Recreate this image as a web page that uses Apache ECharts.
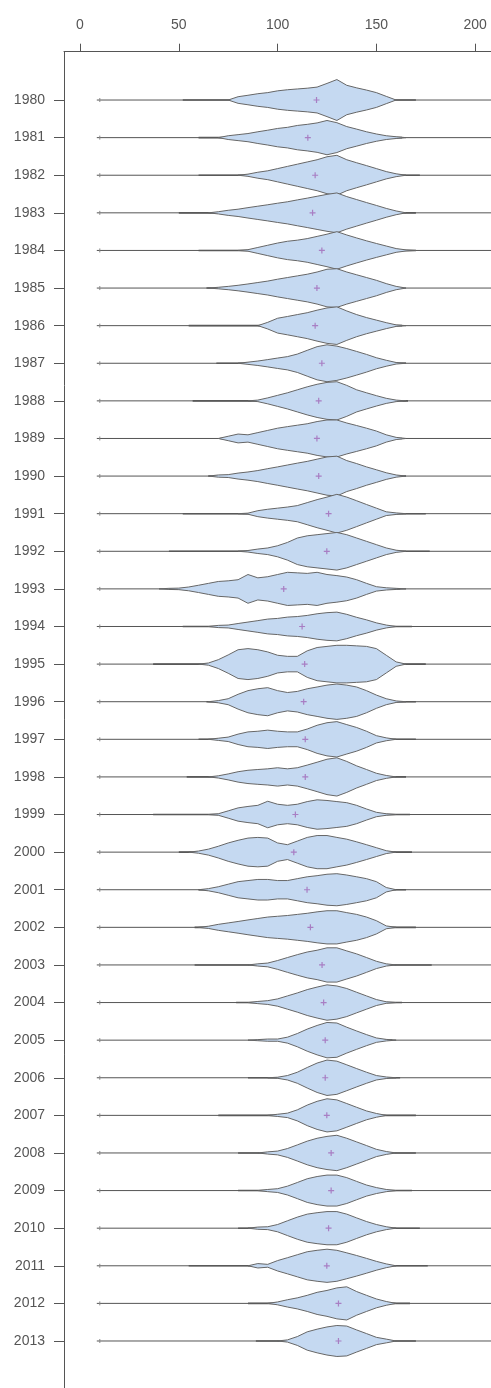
<!DOCTYPE html>
<meta charset="utf-8">
<title>Bean plot 1980-2013</title>
<style>
html, body { margin: 0; padding: 0; background: #fff; }
#main { width: 491px; height: 1388px; }
</style>
<body>
<div id="main"></div>
<script src="https://cdn.jsdelivr.net/npm/echarts@6/dist/echarts.min.js"></script>
<script>
// years on the vertical axis
var years = [1980,1981,1982,1983,1984,1985,1986,1987,1988,1989,1990,1991,1992,1993,1994,1995,1996,
             1997,1998,1999,2000,2001,2002,2003,2004,2005,2006,2007,2008,2009,2010,2011,2012,2013];

// x positions where the density was read
var densX = [40,45,50,55,60,65,70,75,80,85,90,95,100,105,110,115,120,125,130,135,140,145,150,155,160,165,170,175,180];

// density per year (arbitrary units)
var density = [
  [0,0,0,0,0,0,0,0,3,4.3,5.7,6.7,8.3,9.3,10,10.7,11.7,15,18.5,13.3,11,9,6.7,3.3,0,0,0,0,0],
  [0,0,0,0,0,0,0,1.7,2.7,3.7,5.3,6.7,8.3,9.3,11,12,13.3,15.5,13.5,10,7.7,5.3,3.3,1.7,0.8,0,0,0,0],
  [0,0,0,0,0,0,0,0,0,1,2.7,4,6,8,10,12,14,16.7,18,14,11.3,8.7,6,3.3,1.3,0,0,0,0],
  [0,0,0,0,0,0,1,2.3,3.3,4.7,6,7.3,8.7,10,11.7,13.3,15,16.7,18,14.7,12,9.3,6.7,4,1.7,0,0,0,0],
  [0,0,0,0,0,0,0,0,0,0.7,2.7,4.7,6.7,8.3,9.3,10.7,12.7,14.7,17,14,11.3,8.7,6.3,4,1.7,0.5,0,0,0],
  [0,0,0,0,0,0,0.7,1.5,2.5,3.7,5,6.3,8,9.5,11,12.5,14.5,17,17.5,14.5,12,9.5,7,4,1.5,0,0,0,0],
  [0,0,0,0,0,0,0,0,0,0,0,3,6.7,8.3,10,11.7,14,16,17,13.3,10,7.3,5,2.7,0.7,0,0,0,0],
  [0,0,0,0,0,0,0,0,0,1,2,3.3,4.7,6,8.3,11.7,15,16.7,15.5,13.3,10.7,8,5,2.7,0.7,0,0,0,0],
  [0,0,0,0,0,0,0,0,0,0,0.7,2.7,5,7.3,10,12.7,15,16.7,17.3,14,10,7.3,4.7,2.3,0.7,0,0,0,0],
  [0,0,0,0,0,0,0,2,4,3.3,5.3,7.3,9.3,10.7,12,13.3,15.3,16.7,16.7,14,11.7,9.3,6.7,3.3,1,0,0,0,0],
  [0,0,0,0,0,0,1,1.3,2.7,3.7,5,6.7,8.3,10,11.7,13.3,15.3,17.3,18,14,11.3,8.3,5.7,3,1,0,0,0,0],
  [0,0,0,0,0,0,0,0,0,0.5,2.7,4,5,6,7.3,10,12.7,15,17.5,15,11.7,8.3,5,1.7,0.7,0,0,0,0],
  [0,0,0,0,0,0,0,0,0,0.7,2,3,5,8,12,14,15,16,17,15,12,9,6,3,1,0,0,0,0],
  [0,0.5,0.7,1.7,3.3,5,6.7,7.3,8.3,13,10,11,13,15,14.5,14,15,13,12,10.7,8.3,5,2,1,0.5,0,0,0,0],
  [0,0,0,0,0,0,1,1.3,2.7,4,5.3,6.7,7.3,8.5,9,10,11.5,12.5,13,11,8.3,6,3.3,1.3,0,0,0,0,0],
  [0,0,0,0,0,1,4,8.3,13,14,13,11,8,7,7,12,15,16,17,17,16.5,16,14,8,2,0,0,0,0],
  [0,0,0,0,0,0,1,2.7,6.7,10,11.7,12.7,10,8.3,9.3,11.7,13.3,15,16,15,13.3,10,6,2.7,0.7,0,0,0,0],
  [0,0,0,0,0,0,1,2,4.7,6.7,7.3,8.3,7.3,6.7,6.7,9.3,12.7,15,16,13.3,10.7,7.3,3.3,1.3,0,0,0,0,0],
  [0,0,0,0,0,0,1,2.7,4.7,6,6.7,7.3,8.3,7.3,8.3,10.7,13.3,16,17.3,14,10,6.7,3.3,1.3,0,0,0,0,0],
  [0,0,0,0,0,0,0.7,3.3,6,7.3,8.3,12,9.3,8.3,9.3,11.7,13.3,12.7,11.7,10.7,8.3,5,2,0.7,0,0,0,0,0],
  [0,0,0,0,1,2.7,5.3,8.3,10.7,12.7,13.3,12.7,8.3,6.7,10,13.3,15,15,13.3,11.7,9.3,6.7,4,1.3,0,0,0,0,0],
  [0,0,0,0,0,1,2.7,5,7.3,8.3,9.3,9.3,8.3,8.3,10,11.7,12.7,14,14.5,13.3,11.7,10,7.3,2,0,0,0,0,0],
  [0,0,0,0,0,1,2.7,4,5.3,6.7,8,9.3,10,10.7,11.7,12.7,14,15,15,13.3,11.7,9.3,6,1.3,0,0,0,0,0],
  [0,0,0,0,0,0,0,0,0,0,1,1.7,4,6.7,9.3,11.7,13.3,15.5,15.5,12.7,10,6.7,3.3,1,0,0,0,0,0],
  [0,0,0,0,0,0,0,0,0,0,1,1.7,3.3,6,8.7,11.7,14,16,15,12.7,9.3,6,2.7,0.7,0,0,0,0,0],
  [0,0,0,0,0,0,0,0,0,0,0.5,1,1,2.7,6,10,13.3,16,15.5,11.7,8.3,5,2,0.7,0,0,0,0,0],
  [0,0,0,0,0,0,0,0,0,0,0,0,0.5,2,5,9.3,13.3,16,15,11.7,8.3,5,2,0.7,0,0,0,0,0],
  [0,0,0,0,0,0,0,0,0,0,0,0,1,2,5,9.3,12.7,15,14,10.7,7.3,4,1.7,0,0,0,0,0,0],
  [0,0,0,0,0,0,0,0,0,0,0,1,1.7,4,7.3,10.7,13.3,15,16,13.3,10,6.7,3.3,1.3,0,0,0,0,0],
  [0,0,0,0,0,0,0,0,0,0,0,1,1.7,4,7.3,10.7,12.7,14,14,11.7,8.3,5,2.7,1,0,0,0,0,0],
  [0,0,0,0,0,0,0,0,0,0,1,1.3,3.3,6.7,10,12.7,14,15,15,12.7,9.3,6,3.3,1.3,0,0,0,0,0],
  [0,0,0,0,0,0,0,0,0,0,2,1.3,4.7,7.3,10,12.7,14,15,14,11.7,9.3,6.7,4,1.7,0,0,0,0,0],
  [0,0,0,0,0,0,0,0,0,0,0,0,1.3,3.3,5,7.3,10,11.7,14,15,10.7,7.3,4,1.7,0,0,0,0,0],
  [0,0,0,0,0,0,0,0,0,0,0,0,0,1,4,8.3,10.7,12.7,14,13.5,10,6.7,3.3,1.7,0,0,0,0,0]
];

// mean of each year (the purple cross)
var means = [119.7,115.3,119,117.7,122.4,119.9,119,122.4,120.8,119.9,120.8,125.8,124.9,103.1,112.4,113.7,113.2,
             114,114,109,108.2,114.9,116.6,122.5,123.3,124.1,124.1,124.9,127.1,127.1,125.8,124.9,130.8,130.8];

// range of the dense thin tails on both sides of each bean
var tailLo = [52,60,60,50,60,64,55,69,57,71,65,52,45,45,52,37,64,60,54,37,50,60,58,58,79,91,85,70,80,80,80,55,85,89];
var tailHi = [170,163,172,170,170,163,163,165,166,163,165,175,177,162,168,175,170,170,165,167,168,165,170,178,163,158,162,170,170,168,172,176,167,170];

var dataMin = 8.5;
var xTicks = [0, 50, 100, 150, 200];

var myChart = echarts.init(document.getElementById('main'));

function renderBean(params, api) {
  var i = params.dataIndex;
  var yr = years[i];
  var rowH = Math.abs(api.size([0, 1])[1]);
  var k = rowH / 34;
  var d = density[i];
  var first = -1, last = -1;
  for (var j = 0; j < d.length; j++) {
    if (d[j] > 0) { if (first < 0) first = j; last = j; }
  }
  var a = Math.max(first - 1, 0), b = Math.min(last + 1, d.length - 1);
  var top = [], bot = [];
  for (var j = a; j <= b; j++) {
    var p = api.coord([densX[j], yr]);
    top.push([p[0], p[1] - d[j] * k]);
    bot.unshift([p[0], p[1] + d[j] * k]);
  }
  var cs = params.coordSys;
  var s = api.coord([dataMin, yr]);
  var t0 = api.coord([tailLo[i], yr]);
  var t1 = api.coord([tailHi[i], yr]);
  return {
    type: 'group',
    children: [
      { type: 'line', shape: { x1: s[0], y1: s[1], x2: cs.x + cs.width, y2: s[1] },
        style: { stroke: '#555', lineWidth: 1 } },
      { type: 'line', shape: { x1: s[0] + 3, y1: s[1] - 2, x2: s[0] + 3, y2: s[1] + 2 },
        style: { stroke: '#888', lineWidth: 1 } },
      { type: 'line', shape: { x1: t0[0], y1: t0[1], x2: t1[0], y2: t1[1] },
        style: { stroke: '#595959', lineWidth: 1.6 } },
      { type: 'polygon', shape: { points: top.concat(bot) },
        style: { fill: '#c5d9f1', stroke: '#666', lineWidth: 1 } }
    ]
  };
}

var option = {
  animation: false,
  grid: { left: 64, right: 0, top: 51.7, bottom: 0 },
  xAxis: {
    type: 'value',
    position: 'top',
    min: -8.1,
    max: 208,
    splitLine: { show: false },
    axisLine: { show: true, onZero: false, lineStyle: { color: '#555', width: 1 } },
    axisTick: { show: true, length: 8, customValues: xTicks, lineStyle: { color: '#555' } },
    axisLabel: { customValues: xTicks, margin: 20, color: '#555', fontSize: 14, fontFamily: 'Liberation Sans' }
  },
  yAxis: {
    type: 'value',
    inverse: true,
    min: 1978.715,
    max: 2014.25,
    splitLine: { show: false },
    axisLine: { show: true, onZero: false, lineStyle: { color: '#555', width: 1 } },
    axisTick: { show: true, length: 10, customValues: years, lineStyle: { color: '#555' } },
    axisLabel: {
      customValues: years, margin: 19, color: '#555', fontSize: 14, fontFamily: 'Liberation Sans',
      formatter: function (v) { return String(v); }
    }
  },
  series: [
    {
      name: 'beans',
      type: 'custom',
      renderItem: renderBean,
      clip: true,
      data: years.map(function (y, i) { return [means[i], y]; }),
      encode: { x: 0, y: 1 }
    },
    {
      name: 'mean',
      type: 'scatter',
      symbol: 'path://M4,0H6V4H10V6H6V10H4V6H0V4H4Z',
      symbolSize: 6,
      itemStyle: { color: '#a066b8' },
      data: years.map(function (y, i) { return [means[i], y]; }),
      z: 5
    }
  ]
};

myChart.setOption(option);
</script>
